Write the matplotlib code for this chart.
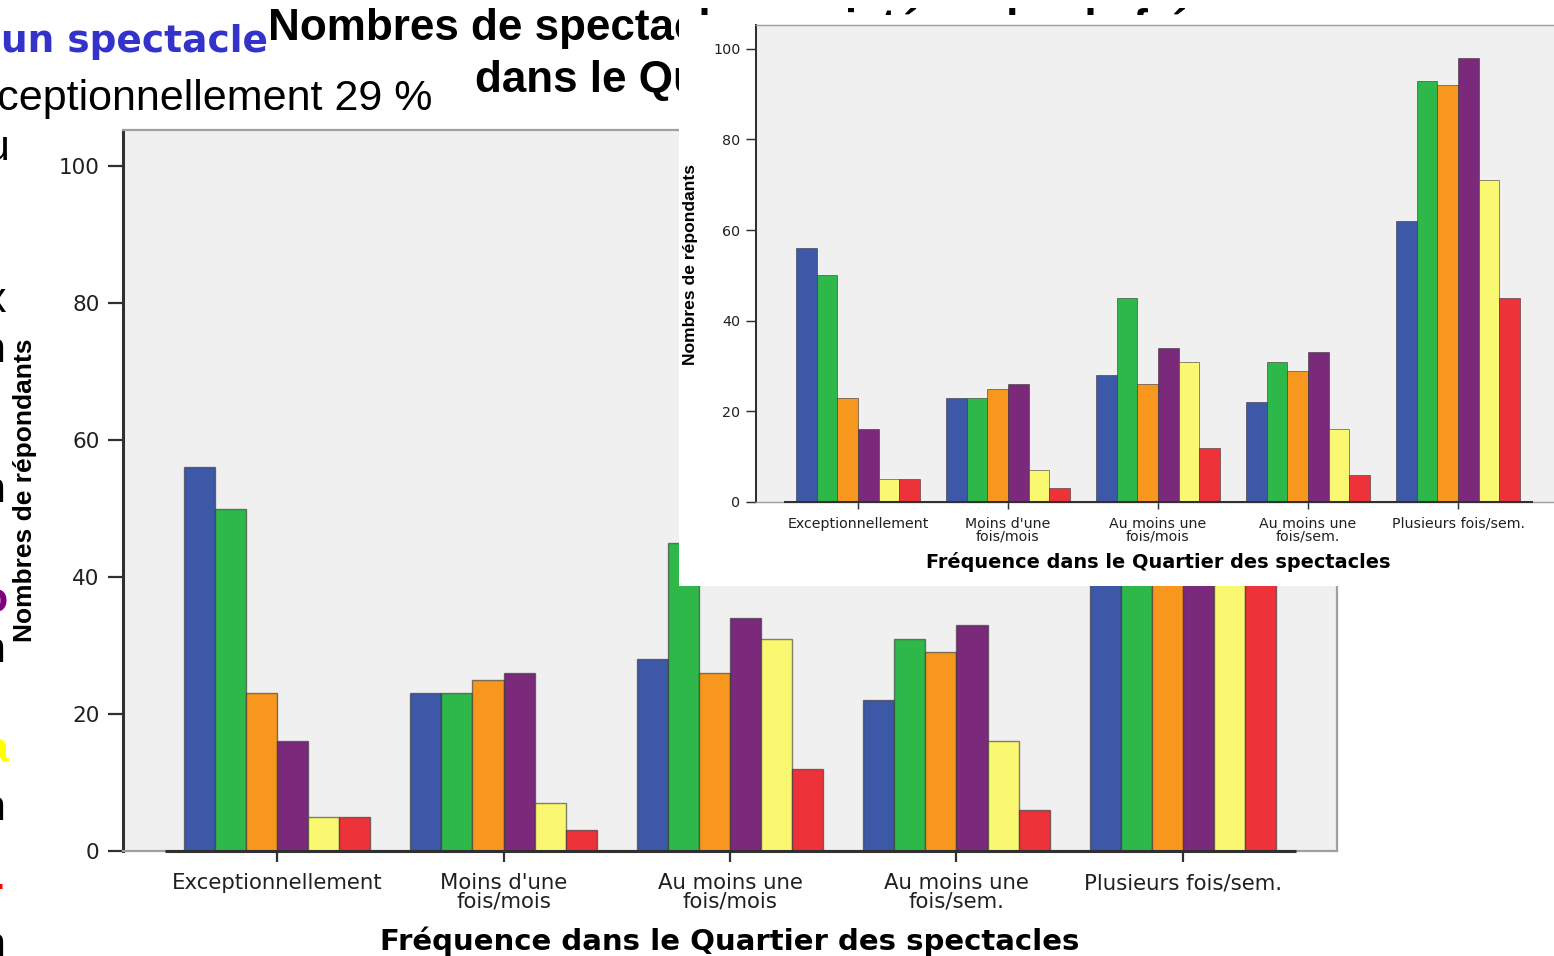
import numpy as np
import matplotlib
matplotlib.use("Agg")
import matplotlib.pyplot as plt
from matplotlib.patches import Rectangle

# categories and series (counts of respondents)
categories = ["Exceptionnellement", "Moins d'une\nfois/mois", "Au moins une\nfois/mois",
              "Au moins une\nfois/sem.", "Plusieurs fois/sem."]
serie_bleue = [56, 23, 28, 22, 62]
serie_verte = [50, 23, 45, 31, 93]
serie_orange = [23, 25, 26, 29, 92]
serie_violette = [16, 26, 34, 33, 98]
serie_jaune = [5, 7, 31, 16, 71]
serie_rouge = [5, 3, 12, 6, 45]
y_ticks = [0, 20, 40, 60, 80, 100]

series = [serie_bleue, serie_verte, serie_orange, serie_violette, serie_jaune, serie_rouge]
colors = ["#3E58A8", "#2FB84A", "#F7971E", "#7B2A7B", "#FAF771", "#EE3239"]

# cut-off text fragments on the left edge of the slide
frag_chars = ["u", "x", "n", "n", "o", "n", "a", "n", "-", "n"]
frag_y = [160, 312, 362, 502, 612, 662, 762, 820, 898, 957]
frag_x = [9, 6, 5, 5, 8, 5, 9, 5, 4, 5]
frag_colors = ["black", "black", "black", "black", "#800080", "black", "#FFFF00", "black", "#FF0000", "black"]

W, H = 1554, 956
fig = plt.figure(figsize=(W / 100, H / 100), dpi=100)
fig.patch.set_facecolor("white")


def px(x, y):
    return x / W, 1 - y / H


def axes_px(left, top, right, bottom, **kw):
    return fig.add_axes([left / W, 1 - bottom / H, (right - left) / W, (bottom - top) / H], **kw)


def draw_chart(ax, k):
    # k = scale factor (1 for the big chart, ~0.66 for the inset)
    x = np.arange(len(categories))
    w = 0.137
    for i, (vals, c) in enumerate(zip(series, colors)):
        ax.bar(x + (i - 2.5) * w, vals, width=w, color=c,
               edgecolor=(0.2, 0.2, 0.2, 0.6), linewidth=1.0 * k, zorder=3)
    ax.set_xlim(-0.68, 4.68)
    ax.set_ylim(0, 105.26)
    ax.set_facecolor("#F0F0F0")
    for s in ["top", "right", "bottom"]:
        ax.spines[s].set_color("#A0A0A0")
        ax.spines[s].set_linewidth(1.6 * k)
    ax.spines["left"].set_color("#303030")
    ax.spines["left"].set_linewidth(2.2 * k)
    ax.hlines(0, -0.494, 4.5, color="#303030", linewidth=2.2 * k, zorder=4, clip_on=False)
    ax.set_xticks(x)
    ax.set_xticklabels(categories, fontsize=15.3 * k, color="#202020", linespacing=0.9)
    ax.set_yticks(y_ticks)
    ax.set_yticklabels([str(t) for t in y_ticks], fontsize=15.5 * k, color="#202020")
    ax.tick_params(axis="x", length=8 * k, width=1.6 * k, color="#303030", pad=8 * k)
    ax.tick_params(axis="y", length=11 * k, width=1.6 * k, color="#303030", pad=6 * k)


# big chart
ax = axes_px(123, 130, 1337, 851, zorder=0)
draw_chart(ax, 1.0)
fig.text(*px(730, 941), "Fréquence dans le Quartier des spectacles", ha="center", va="center",
         fontsize=21, fontweight="bold", family="DejaVu Sans")
fig.text(*px(25, 490), "Nombres de répondants", ha="center", va="center", rotation=90,
         fontsize=19, fontweight="bold", family="Liberation Sans")

# slide texts behind the inset
fig.text(*px(1, 52), "un spectacle", ha="left", va="baseline", fontsize=27,
         fontweight="bold", color="#3333CC", family="DejaVu Sans", zorder=1)
fig.text(*px(432, 110), "Exceptionnellement 29 %", ha="right", va="baseline", fontsize=31,
         family="Liberation Sans", zorder=1)
fig.text(*px(268, 40), "Nombres de spectacles assistés selon la fréquence", ha="left",
         va="baseline", fontsize=31.7, fontweight="bold", family="Liberation Sans", zorder=1)
fig.text(*px(475, 92), "dans le Quartier des spectacles", ha="left", va="baseline",
         fontsize=31.7, fontweight="bold", family="Liberation Sans", zorder=1)
for ch, xx, y, c in zip(frag_chars, frag_x, frag_y, frag_colors):
    fig.text(*px(xx, y), ch, ha="right", va="baseline", fontsize=31, color=c,
             fontweight="bold" if c != "black" else "normal", family="Liberation Sans", zorder=1)

# inset: white pasted picture on top
fig.patches.append(Rectangle(px(679, 586), 875 / W, 571 / H, transform=fig.transFigure,
                             facecolor="white", edgecolor="none", zorder=5))
ax2 = axes_px(756, 25, 1560, 502, zorder=6)
draw_chart(ax2, 0.662)
fig.text(*px(1158, 562), "Fréquence dans le Quartier des spectacles", ha="center", va="center",
         fontsize=21 * 0.662, fontweight="bold", family="DejaVu Sans", zorder=7)
fig.text(*px(690, 265), "Nombres de répondants", ha="center", va="center", rotation=90,
         fontsize=19 * 0.662, fontweight="bold", family="Liberation Sans", zorder=7)

fig.savefig("out.png", dpi=100, facecolor="white")
